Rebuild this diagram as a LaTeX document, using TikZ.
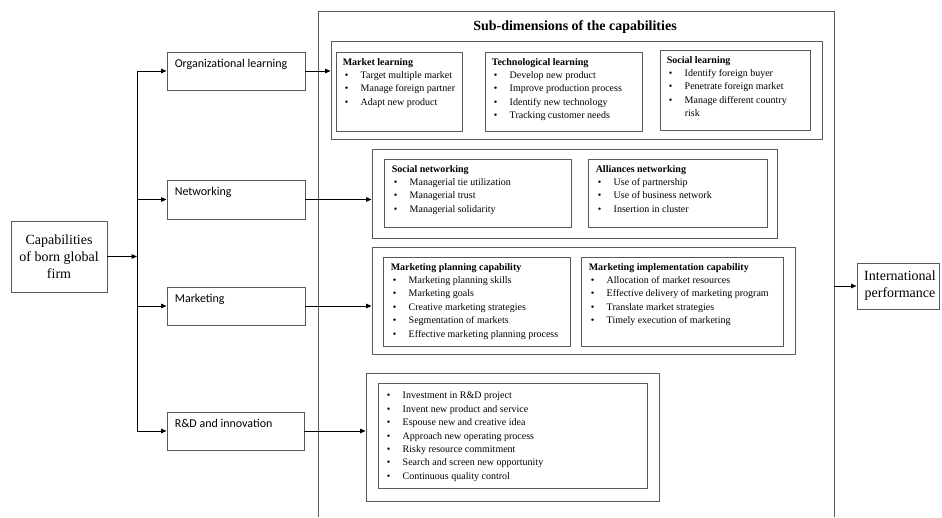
\documentclass[tikz,border=0pt]{standalone}
\usepackage{fontspec}
\setmainfont{Liberation Serif}
\newfontfamily\carlito{Carlito}
\usetikzlibrary{arrows.meta,fit}
\newcommand\bl[1]{\\\hspace*{2pt}\makebox[16pt][l]{\textbullet}#1}
\newcommand\blc[1]{\\\hspace*{18pt}#1}
\newcommand\rb[1]{\hspace*{0pt}\makebox[16pt][l]{\textbullet}#1}
\tikzset{
  frame/.style={draw=black!65, line width=0.9pt, inner sep=0pt},
  arr/.style={-{Triangle[length=5.5pt,width=4.5pt]}, line width=1pt},
  lab/.style={anchor=north west, inner sep=0pt, align=left, font=\fontsize{10}{13.4}\selectfont},
  side/.style={anchor=north west, inner sep=0pt, font=\carlito\fontsize{12}{14}\selectfont},
  big/.style={inner sep=0pt, align=center, font=\fontsize{14}{17}\selectfont},
}
\begin{document}
\begin{tikzpicture}[x=1pt,y=-1pt]
\useasboundingbox (0,0) rectangle (942,517);
% big container (bottom cut off)
\coordinate (bbBL) at (318,517);
\coordinate (bbTL) at (318,11);
\coordinate (bbTR) at (834,11);
\coordinate (bbBR) at (834,517);
\draw[draw=black!65, line width=0.9pt] (bbBL) -- (bbTL) -- (bbTR) -- (bbBR);
\node[inner sep=0pt, font=\bfseries\fontsize{14}{16}\selectfont] (title) at (575,27) {Sub-dimensions of the capabilities};

% left part
\node[frame, fit={(11,221)(107,292)}] (cap) {};
\node[big] (capt) at (cap.center) {Capabilities\\of born global\\firm};
\node[frame, fit={(167,52)(305,90)}] (ol) {};
\node[side] (olt) at ([xshift=8pt,yshift=-7.5pt]ol.north west) {Organizational learning};
\node[frame, fit={(167,180)(305,219)}] (nw) {};
\node[side] (nwt) at ([xshift=8pt,yshift=-7.5pt]nw.north west) {Networking};
\node[frame, fit={(167,287)(305,325)}] (mk) {};
\node[side] (mkt) at ([xshift=8pt,yshift=-7.5pt]mk.north west) {Marketing};
\node[frame, fit={(167,412)(304,450)}] (rd) {};
\node[side] (rdt) at ([xshift=8pt,yshift=-7.5pt]rd.north west) {R\&D and innovation};

\coordinate (ttop) at (137,71);
\coordinate (tbot) at (137,431);
\draw[line width=1pt] (ttop) -- (tbot);
\draw[arr] (cap.east) -- (cap.east -| ttop);
\draw[arr] (ol.west -| ttop) -- (ol.west);
\draw[arr] (nw.west -| ttop) -- (nw.west);
\draw[arr] (mk.west -| ttop) -- (mk.west);
\draw[arr] (rd.west -| ttop) -- (rd.west);

% group 1
\node[frame, fit={(331,41)(822,139)}] (g1) {};
\node[frame, fit={(336,52)(462,131)}] (m1) {};
\node[lab] (m1t) at ([xshift=7pt,yshift=-6.5pt]m1.north west) {\textbf{Market learning}\bl{Target multiple market}\bl{Manage foreign partner}\bl{Adapt new product}};
\node[frame, fit={(485,52)(642,131)}] (m2) {};
\node[lab] (m2t) at ([xshift=7pt,yshift=-6.5pt]m2.north west) {\textbf{Technological learning}\bl{Develop new product}\bl{Improve production process}\bl{Identify new technology}\bl{Tracking customer needs}};
\node[frame, fit={(660,50)(810,130)}] (m3) {};
\node[lab] (m3t) at ([xshift=7pt,yshift=-6.5pt]m3.north west) {\textbf{Social learning}\bl{Identify foreign buyer}\bl{Penetrate foreign market}\bl{Manage different country}\blc{risk}};

% group 2
\node[frame, fit={(372,149)(777,238)}] (g2) {};
\node[frame, fit={(384,159)(571,227)}] (n1) {};
\node[lab] (n1t) at ([xshift=8pt,yshift=-6.5pt]n1.north west) {\textbf{Social networking}\bl{Managerial tie utilization}\bl{Managerial trust}\bl{Managerial solidarity}};
\node[frame, fit={(588,159)(767,227)}] (n2) {};
\node[lab] (n2t) at ([xshift=8pt,yshift=-6.5pt]n2.north west) {\textbf{Alliances networking}\bl{Use of partnership}\bl{Use of business network}\bl{Insertion in cluster}};

% group 3
\node[frame, fit={(372,247)(795,354)}] (g3) {};
\node[frame, fit={(383,257)(570,346)}] (p1) {};
\node[lab] (p1t) at ([xshift=8pt,yshift=-6.5pt]p1.north west) {\textbf{Marketing planning capability}\bl{Marketing planning skills}\bl{Marketing goals}\bl{Creative marketing strategies}\bl{Segmentation of markets}\bl{Effective marketing planning process}};
\node[frame, fit={(581,257)(783,346)}] (p2) {};
\node[lab] (p2t) at ([xshift=8pt,yshift=-6.5pt]p2.north west) {\textbf{Marketing implementation capability}\bl{Allocation of market resources}\bl{Effective delivery of marketing program}\bl{Translate market strategies}\bl{Timely execution of marketing}};

% group 4
\node[frame, fit={(366,373)(659,501)}] (g4) {};
\node[frame, fit={(378,383)(647,488)}] (r1) {};
\node[lab] (r1t) at ([xshift=9pt,yshift=-9.5pt]r1.north west) {\rb{Investment in R\&D project}\\\rb{Invent new product and service}\\\rb{Espouse new and creative idea}\\\rb{Approach new operating process}\\\rb{Risky resource commitment}\\\rb{Search and screen new opportunity}\\\rb{Continuous quality control}};

% right-hand connectors
\draw[arr] (ol.east) -- (ol.east -| g1.west);
\draw[arr] (nw.east) -- (nw.east -| g2.west);
\draw[arr] (mk.east) -- (mk.east -| g3.west);
\draw[arr] (rd.east) -- (rd.east -| g4.west);

% output
\node[frame, fit={(857,263)(939,309)}] (ip) {};
\node[big] (ipt) at ([xshift=2pt]ip.center) {International\\performance};
\draw[arr] (ip.west -| bbTR) -- (ip.west);
\end{tikzpicture}
\end{document}
